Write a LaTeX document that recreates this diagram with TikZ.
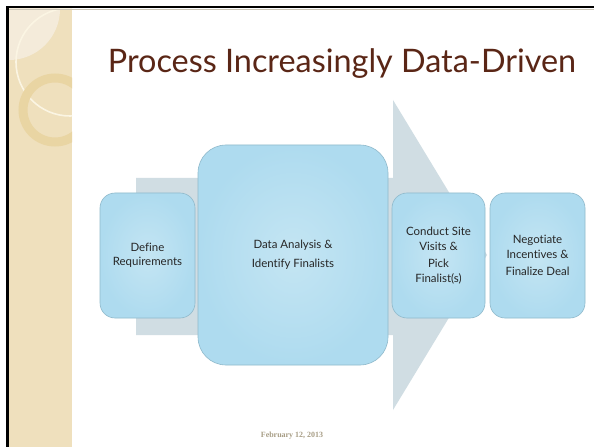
\documentclass[tikz,border=0pt]{standalone}
\usepackage{fontspec}
\setmainfont{Lato}[Ligatures={NoCommon,NoRequired}]
\newfontfamily\datefont{Liberation Serif}
\definecolor{stripe}{HTML}{EFE0BD}
\definecolor{stripelight}{HTML}{F4EBDA}
\definecolor{creamline}{HTML}{FBF5E3}
\definecolor{ringgold}{HTML}{E9D5A3}
\definecolor{arrowgray}{HTML}{D0DDE3}
\definecolor{boxin}{HTML}{C4E5F3}
\definecolor{boxout}{HTML}{AEDBEF}
\definecolor{boxline}{HTML}{8FB9CB}
\definecolor{titlebrown}{HTML}{5A2616}
\definecolor{datetan}{HTML}{A89E86}

\begin{document}
\begin{tikzpicture}[x=1bp, y=-1bp,
    stepbox/.style={draw=boxline, line width=0.6bp, inner color=boxin, outer color=boxout,
      rounded corners=15bp, minimum width=95bp, minimum height=125bp, align=center,
      inner sep=0pt, font=\fontsize{11.5}{14.5}\selectfont, text=black!85}]
    \useasboundingbox (0,0) rectangle (594,447);
    \fill[white] (0,0) rectangle (594,447);

    \begin{scope}
      \clip (9,9) rectangle (72,447);
      \fill[stripe] (9,9) rectangle (72,447);
      \fill[stripelight] (9,9) circle (51bp);
      \draw[creamline, line width=1.6bp] (70,62) circle (54bp);
      \draw[ringgold, line width=9bp] (55,110) circle (32bp);
    \end{scope}
    \draw[line width=2.5bp] (7.25,447) -- (7.25,7.25) -- (594,7.25);
    \draw[datetan!60, line width=0.6bp] (9,9.4) -- (594,9.4);

    \node[anchor=base, text=titlebrown, font=\fontsize{32.5}{38}\selectfont] (title) at (342,73)
      {Process Increasingly Data-Driven};

    \fill[arrowgray] (136,178) -- (393,178) -- (393,100) -- (487,255)
      -- (393,410) -- (393,335) -- (136,335) -- cycle;

    \node[stepbox] (define) at (147.5,255.5) {Define\\Requirements};
    \node[stepbox, minimum width=190bp, minimum height=220bp, rounded corners=28bp]
      (analysis) at (293,255) {Data Analysis \&\\[5bp] Identify Finalists};
    \node[stepbox, minimum width=93bp] (visits) at (438.5,255.5)
      {Conduct Site\\Visits \&\\[3bp] Pick\\Finalist(s)};
    \node[stepbox] (negotiate) at (537.5,255.5)
      {Negotiate\\Incentives \&\\[3bp] Finalize Deal};

    \node[text=datetan, font=\datefont\bfseries\fontsize{8}{9}\selectfont] (date) at (292,436)
      {February 12, 2013};
  \end{tikzpicture}
\end{document}
